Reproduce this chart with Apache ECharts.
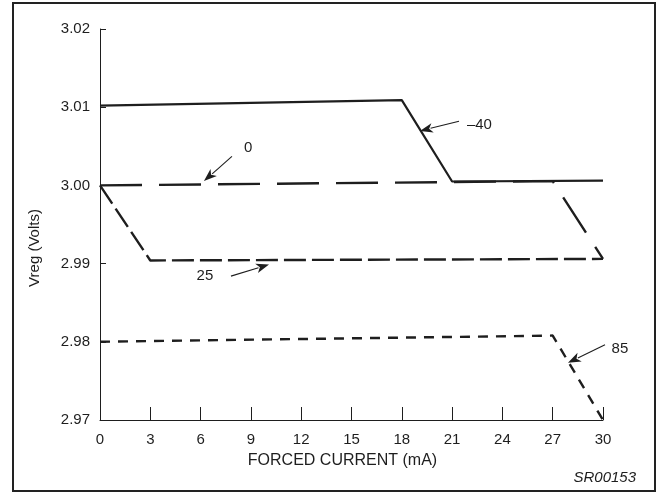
<!DOCTYPE html>
<html>
<head>
<meta charset="utf-8">
<script src="https://cdn.jsdelivr.net/npm/echarts@6/dist/echarts.min.js"></script>
<style>
html,body{margin:0;padding:0;background:#fff;}
#chart{width:660px;height:494px;}
</style>
</head>
<body>
<div id="chart"></div>
<script>
// ---- data ----
const xTicks = [0, 3, 6, 9, 12, 15, 18, 21, 24, 27, 30];
const yTicks = [2.97, 2.98, 2.99, 3.00, 3.01, 3.02];
const curveM40 = [[0, 3.0102], [18, 3.0109], [21, 3.0005], [30, 3.0006]];
const curve0   = [[0, 3.0000], [27, 3.00055], [30, 2.9906]];
const curve25  = [[0, 3.0000], [3, 2.9904], [30, 2.9906]];
const curve85  = [[0, 2.9800], [27, 2.9808], [30, 2.9700]];
const seriesNames = ['–40', '0', '25', '85'];
// annotation labels / arrows (data coordinates)
const annLabels = [
  { text: '–40', pos: [22.63, 3.00769], tail: [21.41, 3.00821], head: [19.08, 3.00696] },
  { text: '0',   pos: [8.83, 3.00474],  tail: [7.87, 3.00372],  head: [6.20, 3.00055] },
  { text: '25',  pos: [6.26, 2.98846],  tail: [7.81, 2.98840],  head: [10.08, 2.98987] },
  { text: '85',  pos: [31.01, 2.97910], tail: [30.12, 2.97962], head: [27.91, 2.97731] }
];
const xName = 'FORCED CURRENT (mA)';
const yName = 'Vreg (Volts)';
const figId = 'SR00153';

const FONT = '"Liberation Sans", Arial, sans-serif';
const INK = '#1e1e1e';

const chart = echarts.init(document.getElementById('chart'), null, { renderer: 'canvas' });

const option = {
  animation: false,
  backgroundColor: '#fff',
  grid: { left: 100, right: 57, top: 29, bottom: 74 },
  xAxis: {
    type: 'value', min: xTicks[0], max: xTicks[xTicks.length - 1], interval: 3,
    name: xName, nameLocation: 'middle', nameGap: 33,
    nameTextStyle: { fontFamily: FONT, fontSize: 16, color: INK, padding: [0, 18, 0, 0] },
    axisLine: { lineStyle: { color: INK, width: 1 } },
    axisTick: { inside: true, length: 13, lineStyle: { color: INK, width: 1 } },
    axisLabel: { margin: 12, fontFamily: FONT, fontSize: 15, color: INK },
    splitLine: { show: false }
  },
  yAxis: {
    type: 'value', min: yTicks[0], max: yTicks[yTicks.length - 1], interval: 0.01,
    axisLine: { show: true, lineStyle: { color: INK, width: 1 } },
    axisTick: { show: true, inside: true, length: 6, lineStyle: { color: INK, width: 1 } },
    axisLabel: { margin: 10, fontFamily: FONT, fontSize: 15, color: INK,
      formatter: v => v.toFixed(2) },
    splitLine: { show: false }
  },
  series: [
    { name: seriesNames[0], type: 'line', data: curveM40, symbol: 'none',
      lineStyle: { color: INK, width: 2.2, type: 'solid' } },
    { name: seriesNames[1], type: 'line', data: curve0, symbol: 'none',
      lineStyle: { color: INK, width: 2.4, type: [42, 17] } },
    { name: seriesNames[2], type: 'line', data: curve25, symbol: 'none',
      lineStyle: { color: INK, width: 2.4, type: [22, 6] } },
    { name: seriesNames[3], type: 'line', data: curve85, symbol: 'none',
      lineStyle: { color: INK, width: 2.4, type: [10, 8] } }
  ]
};
chart.setOption(option);

// annotations, positioned through the chart's own scales
const g = [];
g.push({ type: 'rect', shape: { x: 13, y: 3, width: 642, height: 488 },
  style: { fill: 'none', stroke: '#222', lineWidth: 2 }, z: 10 });
g.push({ type: 'text', x: 35, y: 248, rotation: Math.PI / 2,
  style: { text: yName, font: '15px ' + FONT, fill: INK, align: 'center', verticalAlign: 'middle' } });
g.push({ type: 'text', x: 636, y: 478,
  style: { text: figId, font: 'italic 15px ' + FONT, fill: INK, align: 'right', verticalAlign: 'middle' } });

annLabels.forEach(a => {
  const p = chart.convertToPixel({ gridIndex: 0 }, a.pos);
  const t = chart.convertToPixel({ gridIndex: 0 }, a.tail);
  const h = chart.convertToPixel({ gridIndex: 0 }, a.head);
  g.push({ type: 'text', x: p[0], y: p[1],
    style: { text: a.text, font: '15px ' + FONT, fill: INK, align: 'center', verticalAlign: 'middle' } });
  const dx = h[0] - t[0], dy = h[1] - t[1];
  const L = Math.sqrt(dx * dx + dy * dy);
  const ux = dx / L, uy = dy / L;
  const hl = 13, hw = 4.8;
  const bx = h[0] - ux * hl, by = h[1] - uy * hl;
  g.push({ type: 'line', shape: { x1: t[0], y1: t[1], x2: bx + ux * 2, y2: by + uy * 2 },
    style: { stroke: INK, lineWidth: 1.1 } });
  g.push({ type: 'polygon', shape: { points: [
      [h[0], h[1]], [bx - uy * hw, by + ux * hw], [bx + ux * 3.5, by + uy * 3.5], [bx + uy * hw, by - ux * hw]
    ] }, style: { fill: INK } });
});
chart.setOption({ graphic: g });
</script>
</body>
</html>
